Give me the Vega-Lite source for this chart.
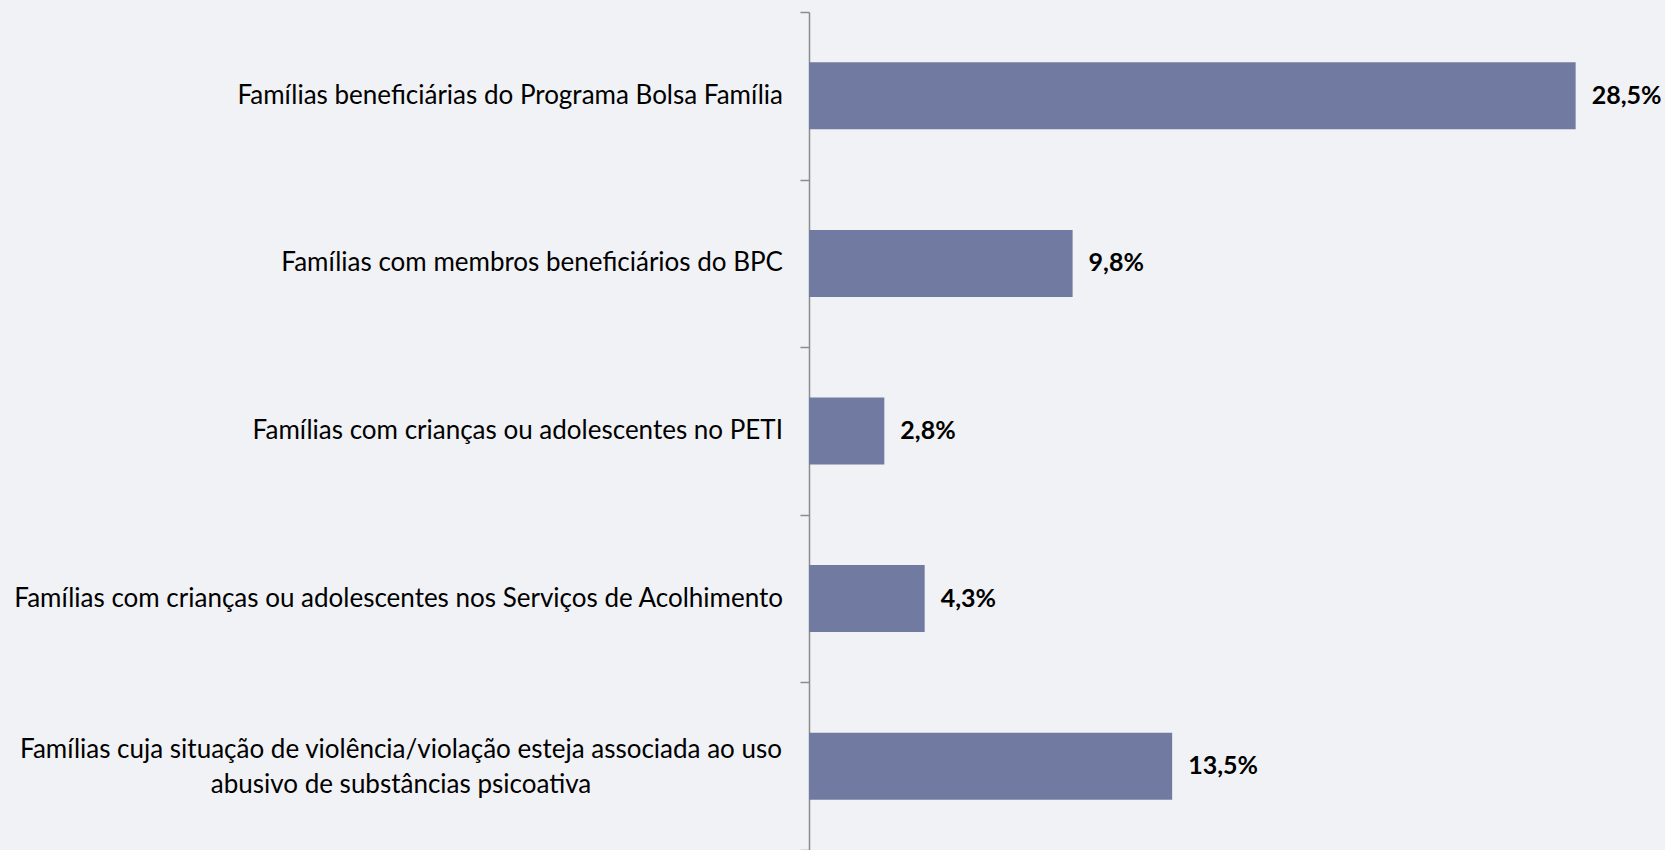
{
  "$schema": "https://vega.github.io/schema/vega-lite/v6.json",
  "width": 807,
  "height": 838,
  "autosize": {"type": "none"},
  "padding": {"left": 809, "top": 12, "right": 49, "bottom": 0},
  "background": "#f1f2f5",
  "config": {
    "view": {"stroke": null},
    "locale": {"number": {"decimal": ",", "thousands": ".", "grouping": [3], "currency": ["R$", ""]}},
    "font": "Lato"
  },
  "data": {
    "values": [
      {"categoria": "Famílias beneficiárias do Programa Bolsa Família", "valor": 0.285},
      {"categoria": "Famílias com membros beneficiários do BPC", "valor": 0.098},
      {"categoria": "Famílias com crianças ou adolescentes no PETI", "valor": 0.028},
      {"categoria": "Famílias com crianças ou adolescentes nos Serviços de Acolhimento", "valor": 0.043},
      {"categoria": "Famílias cuja situação de violência/violação esteja associada ao uso\nabusivo de substâncias psicoativa", "valor": 0.135}
    ]
  },
  "encoding": {
    "y": {
      "field": "categoria",
      "type": "nominal",
      "sort": null,
      "scale": {"paddingInner": 0, "paddingOuter": 0},
      "axis": {
        "title": null,
        "labels": false,
        "domainColor": "#8c8c8c",
        "domainWidth": 1.5,
        "tickColor": "#8c8c8c",
        "tickWidth": 1.5,
        "tickSize": 9,
        "tickBand": "extent"
      }
    },
    "x": {
      "field": "valor",
      "type": "quantitative",
      "scale": {"domain": [0, 0.3], "nice": false},
      "axis": null
    }
  },
  "layer": [
    {"mark": {"type": "bar", "color": "#717aa0", "height": {"band": 0.4}}},
    {
      "mark": {"type": "text", "align": "left", "baseline": "middle", "dx": 16, "fontSize": 25, "fontWeight": "bold", "font": "Lato", "color": "#000000"},
      "encoding": {"text": {"field": "valor", "type": "quantitative", "format": ".1%"}}
    },
    {
      "transform": [{"filter": "indexof(datum.categoria, 'abusivo') < 0"}],
      "mark": {"type": "text", "align": "right", "baseline": "middle", "dx": -26, "fontSize": 26, "font": "Lato", "color": "#000000"},
      "encoding": {
        "x": {"datum": 0},
        "text": {"field": "categoria", "type": "nominal"}
      }
    },
    {
      "transform": [{"filter": "indexof(datum.categoria, 'abusivo') >= 0"}],
      "mark": {"type": "text", "align": "center", "baseline": "middle", "dx": -408, "dy": -16, "fontSize": 26, "font": "Lato", "color": "#000000", "lineBreak": "\n", "lineHeight": 35},
      "encoding": {
        "x": {"datum": 0},
        "text": {"field": "categoria", "type": "nominal"}
      }
    }
  ]
}
